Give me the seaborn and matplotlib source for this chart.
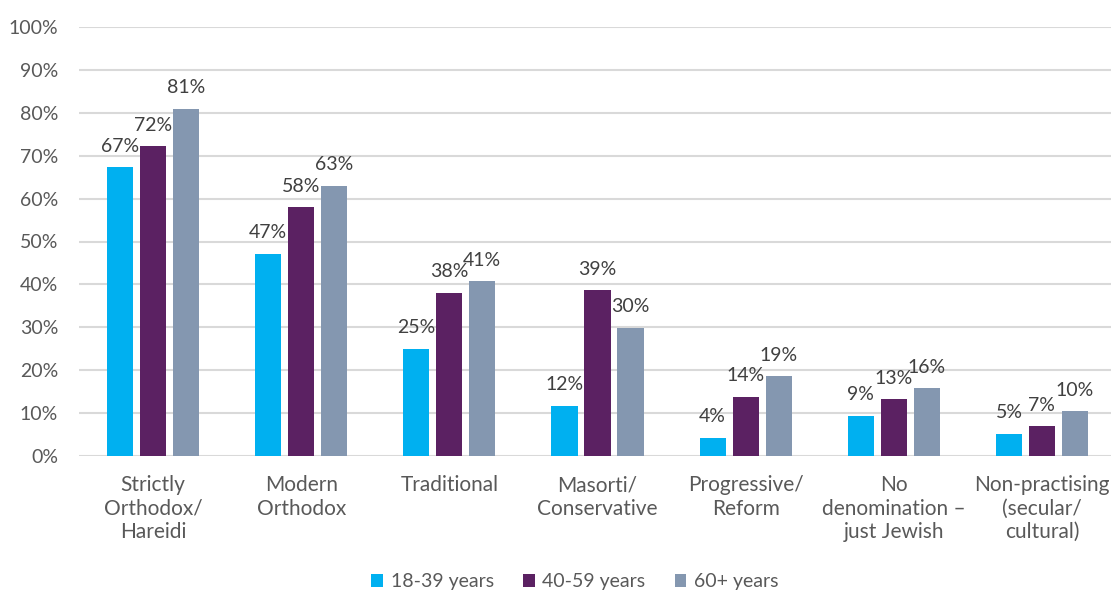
import matplotlib
matplotlib.use("Agg")
import matplotlib.pyplot as plt
import seaborn as sns
import pandas as pd
from matplotlib.patches import Patch

categories = [
    "Strictly\nOrthodox/\nHareidi",
    "Modern\nOrthodox",
    "Traditional",
    "Masorti/\nConservative",
    "Progressive/\nReform",
    "No\ndenomination –\njust Jewish",
    "Non-practising\n(secular/\ncultural)",
]
series = ["18-39 years", "40-59 years", "60+ years"]
age_18_39 = [67.3, 47.2, 25.0, 11.7, 4.2, 9.4, 5.2]
age_40_59 = [72.2, 58.0, 38.0, 38.6, 13.8, 13.2, 6.9]
age_60_plus = [80.9, 63.0, 40.7, 29.9, 18.6, 15.8, 10.4]
colors = ["#00B0F0", "#5B2162", "#8497B0"]

rows = []
for s, vals in zip(series, [age_18_39, age_40_59, age_60_plus]):
    for c, v in zip(categories, vals):
        rows.append({"category": c, "group": s, "value": v})
df = pd.DataFrame(rows)

sns.set_style("white")
plt.rcParams["font.family"] = ["Lato", "DejaVu Sans"]
text_color = "#595959"

fig = plt.figure(figsize=(11.11, 5.94), dpi=100)
ax = fig.add_axes([79 / 1111, 1 - 456 / 594, (1116 - 79) / 1111, 429 / 594])

sns.barplot(data=df, x="category", y="value", hue="group", palette=colors,
            saturation=1, width=0.668, gap=0.21, linewidth=0, legend=False, ax=ax)

for cont in ax.containers:
    labels = [f"{round(b.get_height())}%" for b in cont]
    ax.bar_label(cont, labels=labels, padding=9, fontsize=14, color="#404040")

ax.set_ylim(0, 100)
ax.set_xlim(-0.5, len(categories) - 0.5)
ax.set_yticks(range(0, 101, 10))
ax.set_yticklabels([f"{t}%" for t in range(0, 101, 10)])
ax.yaxis.grid(True, color="#D9D9D9", linewidth=1.5)
ax.set_axisbelow(True)
for sp in ax.spines.values():
    sp.set_visible(False)
ax.tick_params(axis="both", length=0, colors=text_color)
ax.tick_params(axis="y", pad=15, labelsize=14)
ax.tick_params(axis="x", pad=14, labelsize=15)
for lbl in ax.get_xticklabels():
    lbl.set_linespacing(1.2)
ax.set_xlabel("")
ax.set_ylabel("")

handles = [Patch(facecolor=c, edgecolor="none") for c in colors]
fig.legend(handles, series, loc="center", bbox_to_anchor=(575 / 1111, 1 - 582 / 594),
           ncol=3, frameon=False, fontsize=14, handlelength=0.6, handleheight=0.6,
           handletextpad=0.4, columnspacing=1.5, labelcolor=text_color)

fig.savefig("out.png", dpi=100)
